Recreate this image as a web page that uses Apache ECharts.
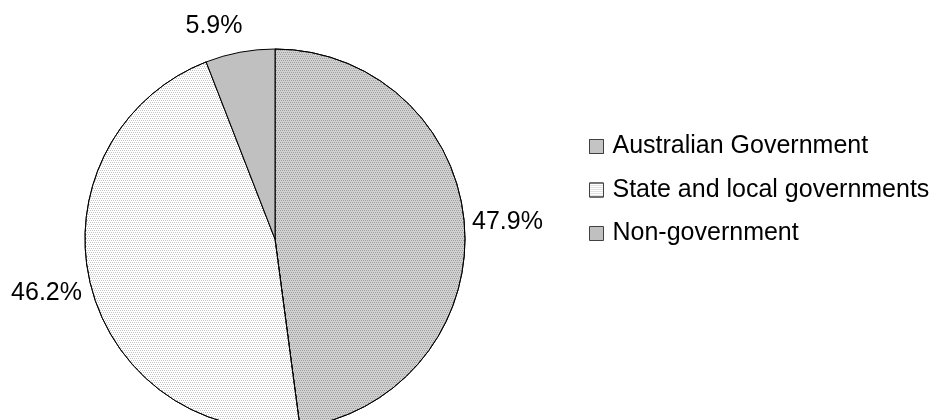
<!DOCTYPE html>
<html><head><meta charset="utf-8">
<script src="https://cdn.jsdelivr.net/npm/echarts@6/dist/echarts.min.js"></script>
<style>html,body{margin:0;padding:0;background:#fff}#c{width:938px;height:420px}</style>
</head><body><div id="c"></div>
<script>
const categories = ['Australian Government', 'State and local governments', 'Non-government'];
const values = [47.9, 46.2, 5.9];
const colors = ['#d0d0d0', '#ffffff', '#c0c0c0'];
const dotColors = ['#a0a0a0', '#c4c4c4', null];
// label anchor points (x, y, align)
const labelPos = [[472, 222, 'left'], [82, 293, 'right'], [214, 26, 'center']];
const FONT = 'Liberation Sans, Arial, sans-serif';

function decalFor(c) {
  if (!c) return null;
  return {symbol: 'rect', symbolSize: 1, color: c,
    dashArrayX: [[1, 1], [0, 1, 1, 0]], dashArrayY: [1, 1], rotation: 0};
}

const chart = echarts.init(document.getElementById('c'), null, {renderer: 'canvas'});
chart.setOption({
  animation: false,
  backgroundColor: '#fff',
  aria: {enabled: false, decal: {show: false}},
  textStyle: {fontFamily: FONT},
  legend: {
    orient: 'vertical', left: 589, top: 134, padding: 0,
    itemWidth: 14, itemHeight: 14, itemGap: 18.5,
    icon: 'rect', selectedMode: false,
    itemStyle: {borderColor: '#404040', borderWidth: 1},
    textStyle: {fontSize: 25, lineHeight: 25, color: '#000', fontFamily: FONT, padding: [0, 0, 0, 4]},
    data: categories.map((n, i) => ({name: n,
      itemStyle: {color: colors[i], decal: decalFor(dotColors[i]), borderColor: '#404040', borderWidth: 1}}))
  },
  series: [{
    type: 'pie', center: [275, 239], radius: 190, startAngle: 90, clockwise: true,
    silent: true,
    data: categories.map((n, i) => ({name: n, value: values[i],
      itemStyle: {color: colors[i], decal: decalFor(dotColors[i])}})),
    itemStyle: {borderColor: '#000', borderWidth: 1},
    label: {show: true, position: 'outside', overflow: 'none', formatter: p => p.value.toFixed(1) + '%',
      fontSize: 25, color: '#000', fontFamily: FONT},
    labelLine: {show: false},
    labelLayout: function (params) {
      const p = labelPos[params.dataIndex];
      return {x: p[0], y: p[1], align: p[2], verticalAlign: 'middle', hideOverlap: false};
    }
  }]
});
</script></body></html>
